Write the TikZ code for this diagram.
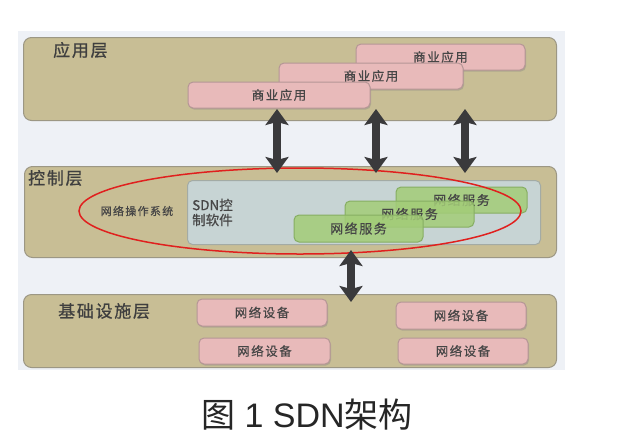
\documentclass[tikz,border=0pt]{standalone}
\usepackage{fontspec}
\setmainfont{Liberation Sans}
\newfontfamily\cjk{Noto Sans CJK SC}
\newfontfamily\cjkn[FakeBold=0.6]{Noto Sans CJK SC}
\newfontfamily\cjks[LetterSpace=12,FakeBold=0.6]{Noto Sans CJK SC}
\newfontfamily\cjkl[LetterSpace=10,FakeBold=0.8]{Noto Sans CJK SC}
\usetikzlibrary{arrows.meta,shadows,shapes.geometric}
\definecolor{bgc}{HTML}{EEF1F6}
\definecolor{layerc}{HTML}{C8BE95}
\definecolor{layerb}{HTML}{9C9784}
\definecolor{pinkc}{HTML}{E8BABA}
\definecolor{pinkb}{HTML}{B59696}
\definecolor{sdnc}{HTML}{C7D4D4}
\definecolor{sdnb}{HTML}{A3ABA5}
\definecolor{greenc}{HTML}{A3CC78}
\definecolor{greenb}{HTML}{86AE62}
\definecolor{txtc}{HTML}{464646}
\definecolor{arrc}{HTML}{3A3A3C}
\definecolor{redc}{HTML}{E0201E}
\tikzset{
  layer/.style={draw=layerb, line width=1pt, fill=layerc, rounded corners=8pt, inner sep=0pt},
  pinkbox/.style={draw=pinkb, line width=1pt, fill=pinkc, rounded corners=5pt, inner sep=0pt,
    drop shadow={shadow xshift=1pt, shadow yshift=-1.5pt, opacity=0.35},
    text=txtc, font=\cjks\fontsize{12.5}{15}\selectfont},
  greenbox/.style={draw=greenb, line width=1pt, fill=greenc, fill opacity=0.85, text opacity=1, rounded corners=5pt, inner sep=0pt,
    text=txtc, font=\cjks\fontsize{13}{15}\selectfont},
  sdnbox/.style={draw=sdnb, line width=1pt, fill=sdnc, rounded corners=5pt, inner sep=0pt},
  lbl/.style={text=txtc!90!black, font=\cjkl\fontsize{17}{19}\selectfont, inner sep=0pt},
  bigarrow/.style={draw=arrc, line width=8pt, {Stealth[length=16pt,width=23pt,inset=3pt]}-{Stealth[length=16pt,width=23pt,inset=3pt]}, shorten <=0pt, shorten >=0pt}
}
\begin{document}
\begin{tikzpicture}[x=1pt,y=-1pt]
\useasboundingbox (0,0) rectangle (617,445);
\fill[white] (0,0) rectangle (617,445);
% background panel
\node[fill=bgc, inner sep=0pt, minimum width=547pt, minimum height=339pt, anchor=north west] (bg) at (18,31) {};
% layers
\node[layer, minimum width=533pt, minimum height=83pt, anchor=north west] (app) at (23,37) {};
\node[layer, minimum width=532pt, minimum height=91pt, anchor=north west] (ctrl) at (24,166) {};
\node[layer, minimum width=533pt, minimum height=73pt, anchor=north west] (infra) at (23,294) {};
% layer labels
\node[lbl, anchor=west] (lapp) at (53,50) {应用层};
\node[lbl, anchor=west] (lctrl) at (28,178) {控制层};
\node[lbl, anchor=west] (linfra) at (58,311) {基础设施层};
% application boxes
\node[pinkbox, minimum width=169pt, minimum height=26pt] (p3) at (440.5,57) {商业应用};
\node[pinkbox, minimum width=184pt, minimum height=26pt] (p2) at (371,76) {商业应用};
\node[pinkbox, minimum width=182pt, minimum height=26pt] (p1) at (279,95) {商业应用};
% SDN control software
\node[sdnbox, minimum width=353pt, minimum height=64pt, anchor=north west] (sdn) at (187,180) {};
\node[text=txtc, font=\cjkn\fontsize{13.5}{15}\selectfont, align=left, anchor=west, inner sep=0pt] (sdnt) at (192,212.5) {SDN控\\制软件};
\node[text=txtc, font=\cjks\fontsize{11}{13}\selectfont, inner sep=0pt] (nos) at (137,211) {网络操作系统};
% network services
\node[greenbox, minimum width=131pt, minimum height=26pt] (g3) at (461.5,200) {网络服务};
\node[greenbox, minimum width=129pt, minimum height=26pt] (g2) at (409.5,214) {网络服务};
\node[greenbox, minimum width=129pt, minimum height=27pt] (g1) at (358.5,228.5) {网络服务};
% red ellipse
\node[draw=redc, line width=1.5pt, ellipse, minimum width=442pt, minimum height=86pt, inner sep=0pt] (os) at (300,211) {};
% devices
\node[pinkbox, minimum width=130pt, minimum height=27pt] (d1) at (262,312.5) {网络设备};
\node[pinkbox, minimum width=130pt, minimum height=27pt] (d2) at (461,315.5) {网络设备};
\node[pinkbox, minimum width=131pt, minimum height=26pt] (d3) at (264.5,351) {网络设备};
\node[pinkbox, minimum width=130pt, minimum height=26pt] (d4) at (463,351) {网络设备};
% arrows
\coordinate (a1t) at (277,109); \coordinate (a1b) at (277,173);
\coordinate (a2t) at (376,109); \coordinate (a2b) at (376,173);
\coordinate (a3t) at (465,109); \coordinate (a3b) at (465,173);
\coordinate (a4t) at (351,250); \coordinate (a4b) at (351,302);
\draw[bigarrow] (a1t) -- (a1b);
\draw[bigarrow] (a2t) -- (a2b);
\draw[bigarrow] (a3t) -- (a3b);
\draw[bigarrow] (a4t) -- (a4b);
% caption
\node[font=\fontsize{34}{36}\selectfont, text=black!85, inner sep=0pt] (cap) at (307,415) {{\cjk 图} 1 SDN{\cjk 架构}};
\end{tikzpicture}
\end{document}
